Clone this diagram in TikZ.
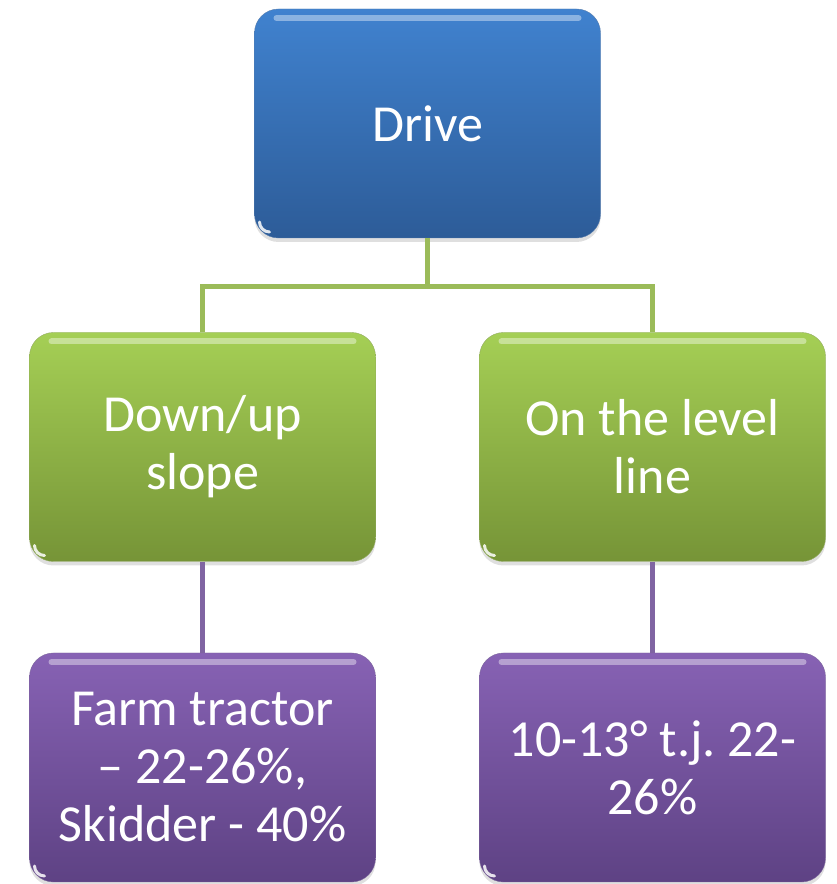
\documentclass[tikz,border=0pt]{standalone}
\usepackage{fontspec}
\setmainfont{Carlito}
\usepackage{tikz}
\usetikzlibrary{calc,positioning,shadows}
\definecolor{dr-blue-top}{HTML}{4082CF}
\definecolor{dr-blue-bot}{HTML}{2D5C98}
\definecolor{dr-green-top}{HTML}{A5CF55}
\definecolor{dr-green-bot}{HTML}{769437}
\definecolor{dr-purple-top}{HTML}{8762B4}
\definecolor{dr-purple-bot}{HTML}{5E4284}
\definecolor{dr-green-line}{HTML}{9BBB59}
\definecolor{dr-purple-line}{HTML}{8064A2}
\frenchspacing

\tikzset{
  gloss/.style={rounded corners=24pt, minimum width=346pt, minimum height=229pt,
    inner sep=0pt, align=center, text=white, font=\fontsize{52}{58}\selectfont,
    drop shadow={opacity=0.25, shadow xshift=0pt, shadow yshift=-4pt},
    path picture={
      \draw[white, opacity=0.4, line width=6pt, line cap=round]
        ([xshift=22pt,yshift=-9pt]path picture bounding box.north west) --
        ([xshift=-22pt,yshift=-9pt]path picture bounding box.north east);
      \draw[white, opacity=0.85, line width=3pt, line cap=round]
        ([xshift=5pt,yshift=16pt]path picture bounding box.south west) arc (180:270:10pt);
    }},
  bluebox/.style={gloss, top color=dr-blue-top, bottom color=dr-blue-bot, draw=dr-blue-bot!80!white},
  greenbox/.style={gloss, top color=dr-green-top, bottom color=dr-green-bot, draw=dr-green-bot!80!white},
  purplebox/.style={gloss, top color=dr-purple-top, bottom color=dr-purple-bot, draw=dr-purple-bot!80!white}
}

\begin{document}
\begin{tikzpicture}[x=1pt, y=1pt]
    \useasboundingbox (0,0) rectangle (836,884);

    % Root
    \node[bluebox] (drive) at (427.5,760.5) {Drive};

    % Second level
    \node[greenbox] (slope) at (202.5,437) {Down/up\\slope};
    \node[greenbox] (level) at (652.5,437) {On the level\\line};

    % Leaves
    \node[purplebox] (tractor) at (202.5,116.5) {Farm tractor\\– 22-26\%,\\Skidder - 40\%};
    \node[purplebox] (angle) at (652.5,116.5) {10-13° t.j. 22-\\26\%};

    % Edges
    \coordinate (bar) at (427.5,597);
    \draw[dr-green-line, line width=5pt] (drive.south) -- (bar);
    \draw[dr-green-line, line width=5pt] (slope.north) |- (bar) -| (level.north);
    \draw[dr-purple-line, line width=4.5pt] (slope.south) -- (tractor.north);
    \draw[dr-purple-line, line width=4.5pt] (level.south) -- (angle.north);
\end{tikzpicture}
\end{document}
